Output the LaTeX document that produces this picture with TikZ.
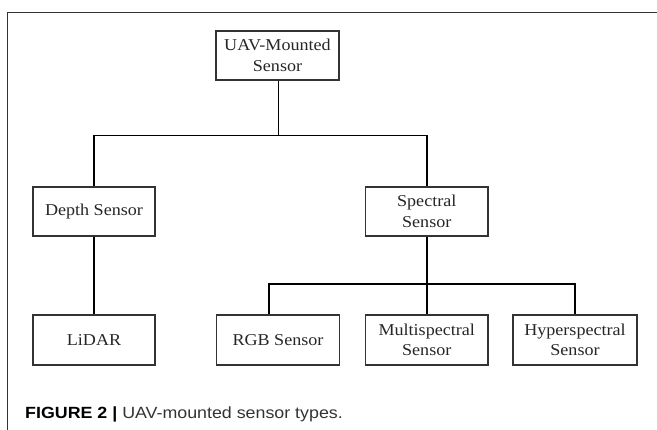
\documentclass[tikz,border=0pt]{standalone}
\usepackage{fontspec}
\setmainfont{Liberation Serif}[FakeStretch=1.09]
\newfontfamily\capfont{Liberation Sans}[FakeStretch=1.1]
\begin{document}
\begin{tikzpicture}[x=1pt,y=-1pt,
  box/.style={draw=black!80, line width=1.2pt, minimum height=49pt, inner sep=0pt,
    align=center, text=black!85, font=\fontsize{16.6}{20.5}\selectfont},
  conn/.style={draw=black, line width=1.5pt},
  frameline/.style={draw=black!80, line width=1pt}]
\useasboundingbox (0,0) rectangle (657,430);
\draw[frameline] (7.3,430) -- (7.3,12.3) -- (657,12.3);

\node[box, minimum width=123pt] (top) at (277.5,55.5) {UAV-Mounted\\Sensor};
\node[box, minimum width=122pt] (depth) at (94,211.5) {Depth Sensor};
\node[box, minimum width=122.5pt] (spectral) at (426.75,211.5) {Spectral\\Sensor};
\node[box, minimum width=122pt, minimum height=50pt] (lidar) at (94,340) {LiDAR};
\node[box, minimum width=123pt, minimum height=50pt] (rgb) at (278,340) {RGB Sensor};
\node[box, minimum width=122.5pt, minimum height=50pt] (multi) at (426.75,340) {Multispectral\\Sensor};
\node[box, minimum width=124pt, minimum height=50pt] (hyper) at (575,340) {Hyperspectral\\Sensor};

\coordinate (j1) at (278.7,135.7);
\coordinate (j2) at (426.75,284);
\draw[conn] (top.south -| j1) -- (j1);
\draw[conn] (depth.north) |- (j1) -| (spectral.north);
\draw[conn] (depth.south) -- (lidar.north);
\draw[conn] (spectral.south) -- (multi.north);
\draw[conn] ([xshift=-9pt]rgb.north) |- (j2) -| (hyper.north);

\node[anchor=base west, inner sep=0pt, font=\capfont\fontsize{16.2}{19}\selectfont] (cap) at (25,418.3)
  {\textbf{FIGURE 2 |} \textcolor{black!80}{UAV-mounted sensor types.}};
\end{tikzpicture}
\end{document}
